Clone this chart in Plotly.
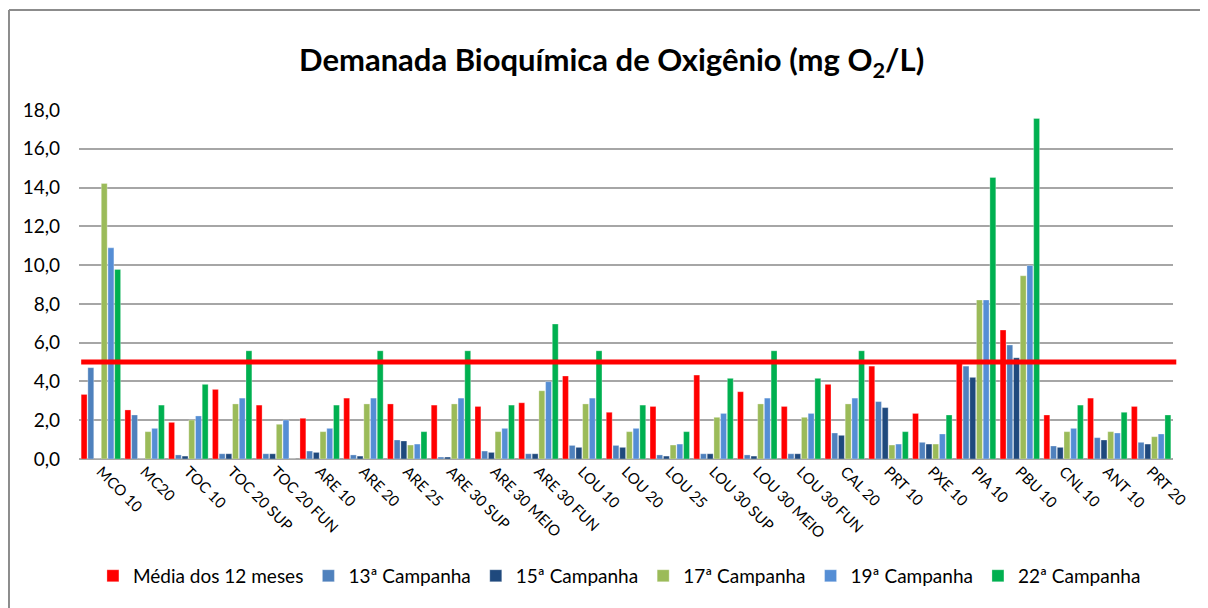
import plotly.graph_objects as go

categories = ["MCO 10", "MC20", "TOC 10", "TOC 20 SUP", "TOC 20 FUN", "ARE 10", "ARE 20",
              "ARE 25", "ARE 30 SUP", "ARE 30 MEIO", "ARE 30 FUN", "LOU 10", "LOU 20",
              "LOU 25", "LOU 30 SUP", "LOU 30 MEIO", "LOU 30 FUN", "CAL 20", "PRT 10",
              "PXE 10", "PIA 10", "PBU 10", "CNL 10", "ANT 10", "PRT 20"]

media_12_meses = [3.33, 2.53, 1.89, 3.59, 2.78, 2.10, 3.14, 2.84, 2.78, 2.71, 2.90, 4.28, 2.41,
                  2.71, 4.33, 3.47, 2.71, 3.85, 4.79, 2.35, 4.95, 6.65, 2.27, 3.14, 2.71]
campanha_13 = [4.71, 2.27, 0.21, 0.27, 0.27, 0.41, 0.21, 0.98, 0.10, 0.41, 0.27, 0.70, 0.70,
               0.21, 0.27, 0.21, 0.27, 1.34, 2.96, 0.86, 4.79, 5.88, 0.67, 1.10, 0.86]
campanha_15 = [0.0, 0.0, 0.15, 0.27, 0.27, 0.34, 0.15, 0.93, 0.10, 0.34, 0.27, 0.60, 0.60,
               0.15, 0.27, 0.15, 0.27, 1.22, 2.65, 0.77, 4.21, 5.22, 0.60, 0.98, 0.77]
campanha_17 = [14.21, 1.41, 2.01, 2.84, 1.79, 1.41, 2.84, 0.72, 2.84, 1.41, 3.52, 2.84, 1.41,
               0.72, 2.15, 2.84, 2.15, 2.84, 0.72, 0.77, 8.20, 9.45, 1.41, 1.41, 1.15]
campanha_19 = [10.89, 1.58, 2.22, 3.14, 2.01, 1.58, 3.14, 0.77, 3.14, 1.58, 3.99, 3.14, 1.58,
               0.77, 2.35, 3.14, 2.35, 3.14, 0.77, 1.29, 8.20, 9.98, 1.58, 1.34, 1.29]
campanha_22 = [9.78, 2.78, 3.85, 5.58, 0.0, 2.78, 5.58, 1.41, 5.58, 2.78, 6.96, 5.58, 2.78,
               1.41, 4.16, 5.58, 4.16, 5.58, 1.41, 2.27, 14.52, 17.56, 2.78, 2.41, 2.27]

limite = 5.0
y_ticks = [0, 2, 4, 6, 8, 10, 12, 14, 16, 18]
y_tick_labels = ["0,0", "2,0", "4,0", "6,0", "8,0", "10,0", "12,0", "14,0", "16,0", "18,0"]

series = [
    ("Média dos 12 meses", media_12_meses, "#FF0000"),
    ("13ª Campanha", campanha_13, "#4F81BD"),
    ("15ª Campanha", campanha_15, "#1F497D"),
    ("17ª Campanha", campanha_17, "#9BBB59"),
    ("19ª Campanha", campanha_19, "#558ED5"),
    ("22ª Campanha", campanha_22, "#00B050"),
]

FONT = "Lato"

fig = go.Figure()
for name, vals, color in series:
    fig.add_trace(go.Bar(
        x=categories, y=vals, name=name,
        marker=dict(color=color, line=dict(color="rgba(255,255,255,0.6)", width=0.5)),
    ))

fig.add_shape(type="line", xref="paper", yref="y", x0=0.002, x1=1.003, y0=limite, y1=limite,
              line=dict(color="#FF0000", width=5), layer="above")

# outer chart frame (left and top edges visible)
fig.add_shape(type="line", xref="paper", yref="paper", x0=-0.064, x1=-0.064, y0=1.2865, y1=-0.45,
              line=dict(color="#8C8C8C", width=2))
fig.add_shape(type="line", xref="paper", yref="paper", x0=-0.064, x1=1.05, y0=1.2865, y1=1.2865,
              line=dict(color="#8C8C8C", width=2))

fig.update_layout(
    width=1200, height=600,
    margin=dict(l=71, r=35, t=102, b=149),
    paper_bgcolor="white", plot_bgcolor="white",
    barmode="group", bargap=0.08, bargroupgap=0.12,
    font=dict(family=FONT, color="#000000"),
    title=dict(text="<b>Demanada Bioquímica de Oxigênio (mg O<sub>2</sub>/L)</b>",
               x=0.503, xanchor="center", y=0.913, yanchor="middle",
               font=dict(family=FONT, size=31, color="#000000")),
    xaxis=dict(tickangle=45, tickfont=dict(family=FONT, size=15, color="#000000"),
               showgrid=False, showline=False, ticks=""),
    yaxis=dict(range=[0, 18], tickvals=y_ticks, ticktext=y_tick_labels,
               tickfont=dict(family=FONT, size=19, color="#000000"),
               showgrid=True, gridcolor="#A6A6A6", gridwidth=1.5,
               zeroline=True, zerolinecolor="#A6A6A6", zerolinewidth=1.5,
               showline=False, ticks="", ticklabelstandoff=18),
    legend=dict(orientation="h", x=0.494, xanchor="center", y=-0.335, yanchor="middle",
                font=dict(family=FONT, size=19, color="#000000"), traceorder="normal",
                itemwidth=30),
    showlegend=True,
)

fig.write_html("out.html")
